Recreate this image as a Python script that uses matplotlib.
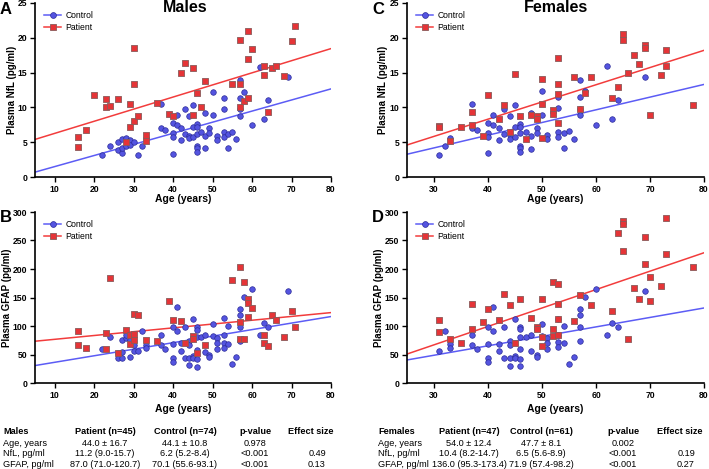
import numpy as np
import matplotlib.pyplot as plt
from matplotlib.lines import Line2D

plt.rcParams['font.family'] = ['Liberation Sans', 'DejaVu Sans']

W, H = 709, 469

# ---- Males NfL (panel A) ----
a_pat_age = [16, 16, 18, 20, 23, 23, 24, 26, 28, 29, 29, 30, 30, 30, 31, 33, 33, 36, 39, 40,
             42, 43, 45, 45, 46, 47, 48, 55, 57, 57, 57, 58, 59, 59, 59, 60, 63, 63, 64, 65,
             66, 68, 70, 71]
a_pat_nfl = [5.8, 4.3, 6.8, 11.8, 11.2, 10.0, 10.2, 11.2, 5.0, 10.5, 7.2, 18.5, 13.4, 8.1, 8.7, 6.1, 5.2, 10.7, 9.1, 8.7,
             14.9, 16.4, 15.7, 8.9, 12.1, 10.1, 13.8, 13.4, 19.7, 13.3, 10.1, 10.9, 21.0, 17.0, 11.3, 18.4, 16.0, 14.7, 9.4, 15.7,
             16.0, 14.5, 19.6, 21.7]
a_con_age = [22, 24, 26, 26, 27, 27, 27, 28, 28, 29, 29, 30, 31, 32, 33, 37, 37, 38, 40, 40,
             40, 40, 41, 41, 42, 42, 43, 43, 44, 44, 44, 45, 45, 45, 46, 46, 46, 46, 46, 46,
             47, 48, 48, 48, 49, 49, 50, 50, 51, 51, 53, 53, 53, 53, 54, 54, 55, 56, 57, 57,
             57, 57, 58, 60, 62, 63, 64, 69]
a_con_nfl = [3.2, 4.4, 5.1, 3.9, 3.4, 4.2, 5.4, 5.6, 4.4, 5.3, 4.6, 5.0, 3.1, 4.4, 5.6, 10.5, 7.1, 6.8, 7.7, 6.3,
             5.8, 3.3, 8.9, 7.4, 7.0, 5.3, 9.8, 6.2, 8.7, 5.9, 5.6, 10.3, 7.2, 5.7, 7.6, 7.2, 6.2, 4.4, 4.1, 3.6,
             6.4, 9.2, 5.9, 4.1, 7.1, 6.3, 12.2, 8.9, 5.9, 5.3, 11.4, 9.8, 6.4, 5.7, 6.2, 4.1, 6.5, 5.5, 14.0, 11.4,
             9.8, 8.8, 12.2, 7.5, 15.8, 8.3, 11.0, 14.3]
a_fit_x = [5, 80]
a_fit_con = [0.7, 12.66]
a_fit_pat = [5.4, 18.45]

# ---- Males GFAP (panel B) ----
b_pat_age = [16, 16, 18, 23, 23, 24, 26, 28, 29, 29, 30, 30, 30, 31, 33, 36, 39, 40, 42, 43,
             45, 45, 46, 48, 55, 57, 57, 57, 58, 58, 59, 59, 59, 60, 63, 63, 64, 65, 66, 68,
             70, 71]
b_pat_gfap = [92, 67.5, 62, 88, 59, 184, 52, 93.5, 85, 68, 121, 86.5, 76, 120, 75.5, 73, 143, 110, 108.5, 71,
              82.5, 77, 52.5, 66, 180, 204, 107, 77, 178, 77, 148, 141, 116.5, 132, 84, 70, 65, 120, 110, 80,
              126, 99]
b_con_age = [22, 24, 26, 26, 27, 27, 27, 28, 28, 29, 29, 30, 30, 31, 32, 33, 33, 37, 37, 38,
             40, 40, 40, 40, 41, 41, 42, 42, 43, 43, 44, 44, 44, 44, 45, 45, 45, 46, 46, 46,
             46, 46, 46, 47, 48, 48, 49, 49, 50, 50, 51, 51, 51, 53, 53, 53, 53, 54, 54, 55,
             56, 57, 57, 57, 57, 58, 60, 62, 63, 64, 69]
b_con_gfap = [59, 81, 53, 43, 75, 54, 43, 79, 85, 76, 46, 66, 57, 57, 92, 66, 62, 84, 67.5, 60.5,
              99, 69, 43, 36, 134, 92, 70, 57, 97.5, 43, 74, 67, 43, 31, 112.5, 47, 43, 98, 93.5, 81,
              58, 41.5, 28, 81, 85, 55, 49.5, 45, 103, 82.5, 79.5, 70, 60.5, 113.5, 85, 71, 62, 100, 69, 33.5,
              45, 129, 119.5, 98.5, 73, 150.5, 164.5, 84, 105.5, 98, 161.5]
b_fit_x = [5, 80]
b_fit_con = [30.6, 116.6]
b_fit_pat = [73.3, 123.5]

# ---- Females NfL (panel C) ----
c_pat_age = [31, 31, 33, 35, 37, 37, 39, 40, 42, 43, 44, 45, 46, 47, 48, 49, 49, 50, 50, 50,
             52, 52, 53, 53, 53, 53, 56, 57, 58, 59, 63, 64, 65, 65, 66, 67, 68, 69, 69, 70,
             72, 73, 73, 78]
c_pat_nfl = [7.35, 7.2, 5.2, 7.2, 9.3, 7.4, 5.9, 11.8, 8.3, 10.3, 6.5, 14.8, 8.7, 5.5, 8.9, 8.8, 8.4, 14.1, 10.5, 5.6,
             9.6, 9.1, 17.1, 13.3, 11.9, 7.7, 14.4, 9.8, 12.0, 14.3, 11.3, 12.9, 20.5, 19.7, 15.0, 17.6, 16.25, 18.9, 18.6, 8.85,
             14.7, 18.3, 16.0, 10.4]
c_con_age = [31, 32, 33, 37, 37, 38, 40, 40, 40, 40, 41, 41, 42, 42, 43, 43, 44, 44, 44, 45,
             45, 45, 46, 46, 46, 46, 46, 46, 47, 48, 48, 48, 49, 49, 50, 50, 51, 51, 53, 53,
             53, 53, 54, 54, 55, 56, 57, 57, 57, 57, 58, 60, 62, 63, 64, 69]
c_con_nfl = [3.1, 4.4, 5.6, 10.5, 7.1, 6.8, 7.7, 6.3, 5.8, 3.4, 8.9, 7.4, 7.0, 5.3, 9.8, 6.2, 8.7, 6.0, 5.5, 10.3,
             7.2, 5.7, 7.6, 7.2, 6.3, 4.5, 4.1, 3.6, 6.5, 9.2, 5.9, 4.0, 7.1, 6.3, 12.3, 8.9, 6.0, 5.4, 11.5, 9.85,
             6.5, 5.7, 6.3, 4.1, 6.6, 5.5, 13.9, 11.5, 9.8, 8.85, 12.3, 7.5, 15.9, 8.4, 11.0, 14.3]
c_fit_x = [25, 80]
c_fit_con = [3.27, 13.3]
c_fit_pat = [4.6, 18.2]

# ---- Females GFAP (panel D) ----
d_pat_age = [31, 31, 33, 35, 37, 37, 39, 40, 42, 43, 44, 45, 46, 48, 49, 49, 50, 50, 50, 52,
             52, 52, 53, 53, 53, 53, 56, 57, 59, 63, 64, 65, 65, 65, 66, 67, 68, 69, 69, 70,
             70, 72, 73, 73, 78]
d_pat_gfap = [111, 90, 77, 71, 139, 94.5, 107, 129, 111, 156, 137, 70, 148, 113.5, 98.5, 95, 148, 81, 64.5, 178,
              95, 83, 173, 139, 112.5, 85, 109, 155, 136, 126, 263, 284.5, 278.7, 231, 77, 167, 148, 256, 209.5, 186,
              143, 170, 289.7, 225.6, 203.7]
d_con_age = [31, 32, 33, 33, 37, 37, 38, 40, 40, 40, 40, 41, 41, 42, 42, 43, 43, 44, 44, 44,
             44, 45, 45, 45, 46, 46, 46, 46, 46, 46, 47, 48, 48, 49, 49, 50, 50, 51, 51, 51,
             53, 53, 53, 53, 54, 54, 55, 56, 57, 57, 57, 57, 58, 60, 62, 63, 64, 69]
d_con_gfap = [57, 92, 68, 62, 84, 67.5, 60.5, 99, 69, 43, 36, 134, 92, 69, 56.5, 97.5, 43, 73, 67, 43,
              30.5, 112.5, 47, 43, 98, 94.5, 81, 59, 41.5, 29, 81, 85, 56, 49.6, 45, 103, 82.5, 79.6, 70, 60,
              113, 85, 71.5, 63, 100.4, 70, 33.5, 45, 130, 119.5, 98, 73, 150.6, 164.5, 83.7, 105.6, 98, 161.6]
d_fit_x = [25, 80]
d_fit_con = [40.4, 131.6]
d_fit_pat = [50.8, 228.5]

# ---- tables ----
m_header = ['Males', 'Patient (n=45)', 'Control (n=74)', 'p-value', 'Effect size']
m_rows = [['Age, years', '44.0 ± 16.7', '44.1 ± 10.8', '0.978', ''],
          ['NfL, pg/ml', '11.2 (9.0-15.7)', '6.2 (5.2-8.4)', '<0.001', '0.49'],
          ['GFAP, pg/ml', '87.0 (71.0-120.7)', '70.1 (55.6-93.1)', '<0.001', '0.13']]
f_header = ['Females', 'Patient (n=47)', 'Control (n=61)', 'p-value', 'Effect size']
f_rows = [['Age, years', '54.0 ± 12.4', '47.7 ± 8.1', '0.002', ''],
          ['NfL, pg/ml', '10.4 (8.2-14.7)', '6.5 (5.6-8.9)', '<0.001', '0.19'],
          ['GFAP, pg/ml', '136.0 (95.3-173.4)', '71.9 (57.4-98.2)', '<0.001', '0.27']]

BLUE = '#5454e0'
BLUE_EDGE = '#2c2c98'
RED = '#e53437'
RED_EDGE = '#8a5a5a'
LBLUE = '#5c5cf5'
LRED = '#f23c3c'

fig = plt.figure(figsize=(W / 100, H / 100), dpi=100)


def add_ax(l, t, r, b):
    return fig.add_axes([l / W, 1 - b / H, (r - l) / W, (b - t) / H])


def fx(x):
    return x / W


def fy(y):
    return 1 - y / H


def panel(ax, con_x, con_y, pat_x, pat_y, fit_x, fit_con, fit_pat, xlim, xticks, ylim, yticks, ylabel,
          ylab_x, xlab_y):
    ax.plot(fit_x, fit_con, color=LBLUE, lw=1.1, zorder=1)
    ax.plot(fit_x, fit_pat, color=LRED, lw=1.1, zorder=1)
    ax.scatter(con_x, con_y, s=16, marker='o', color=BLUE, edgecolor=BLUE_EDGE, linewidth=0.5, zorder=3)
    ax.scatter(pat_x, pat_y, s=16, marker='s', color=RED, edgecolor=RED_EDGE, linewidth=0.6, zorder=4)
    ax.set_xlim(*xlim)
    ax.set_ylim(*ylim)
    ax.set_xticks(xticks)
    ax.set_yticks(yticks)
    for s in ['top', 'right']:
        ax.spines[s].set_visible(False)
    for s in ['left', 'bottom']:
        ax.spines[s].set_linewidth(1.2)
    ax.tick_params(width=1.0, length=3.5, labelsize=6.2, pad=2)
    for lab in ax.get_xticklabels() + ax.get_yticklabels():
        lab.set_fontweight('bold')
    ax.set_xlabel('Age (years)', fontsize=7.5, fontweight='bold', va='center')
    ax.set_ylabel(ylabel, fontsize=7, fontweight='bold', va='center')
    bb = ax.get_position()
    ax.yaxis.set_label_coords((ylab_x / W - bb.x0) / bb.width, 0.5)
    ax.xaxis.set_label_coords(0.5, ((1 - xlab_y / H) - bb.y0) / bb.height)
    handles = [Line2D([], [], color=LBLUE, lw=1.1, marker='o', markersize=4.2,
                      markerfacecolor=BLUE, markeredgecolor=BLUE_EDGE, markeredgewidth=0.5),
               Line2D([], [], color=LRED, lw=1.1, marker='s', markersize=4.2,
                      markerfacecolor=RED, markeredgecolor=RED_EDGE, markeredgewidth=0.6)]
    ax.legend(handles, ['Control', 'Patient'], loc='upper left', bbox_to_anchor=(0.01, 0.99),
              frameon=False, fontsize=6.2, handlelength=2.0, handletextpad=0.5,
              labelspacing=0.35, borderaxespad=0.3)


axA = add_ax(35, 3, 331, 177)
panel(axA, a_con_age, a_con_nfl, a_pat_age, a_pat_nfl, a_fit_x, a_fit_con, a_fit_pat,
      (5, 80), range(10, 81, 10), (0, 25), range(0, 26, 5), 'Plasma NfL (pg/ml)', 12, 199)
axB = add_ax(35, 212, 331, 383)
panel(axB, b_con_age, b_con_gfap, b_pat_age, b_pat_gfap, b_fit_x, b_fit_con, b_fit_pat,
      (5, 80), range(10, 81, 10), (0, 300), range(0, 301, 50), 'Plasma GFAP (pg/ml)', 7, 409)
axC = add_ax(407, 3, 704, 177)
panel(axC, c_con_age, c_con_nfl, c_pat_age, c_pat_nfl, c_fit_x, c_fit_con, c_fit_pat,
      (25, 80), range(30, 81, 10), (0, 25), range(0, 26, 5), 'Plasma NfL (pg/ml)', 383, 199)
axD = add_ax(407, 212, 704, 383)
panel(axD, d_con_age, d_con_gfap, d_pat_age, d_pat_gfap, d_fit_x, d_fit_con, d_fit_pat,
      (25, 80), range(30, 81, 10), (0, 300), range(0, 301, 50), 'Plasma GFAP (pg/ml)', 379, 409)

fig.text(fx(185), fy(7), 'Males', fontsize=11.5, fontweight='bold', ha='center', va='center')
fig.text(fx(556), fy(7), 'Females', fontsize=11.5, fontweight='bold', ha='center', va='center')
for lab, x, y in [('A', 0, 10), ('B', 0, 218), ('C', 372, 10), ('D', 372, 218)]:
    fig.text(fx(x), fy(y), lab, fontsize=12, fontweight='bold', ha='left', va='center')


def table(header, rows, xs, aligns):
    ys = [431, 443, 453, 464]
    for j, h in enumerate(header):
        fig.text(fx(xs[j]), fy(ys[0]), h, fontsize=6.6, fontweight='bold', ha=aligns[j], va='center')
    for i, row in enumerate(rows):
        for j, v in enumerate(row):
            x = xs[j] + (6 if j == 4 else 0)
            fig.text(fx(x), fy(ys[i + 1]), v, fontsize=6.6, ha=aligns[j], va='center')


table(m_header, m_rows, [3, 105, 185, 255, 311], ['left', 'center', 'center', 'center', 'center'])
table(f_header, f_rows, [378, 469, 541, 623, 680], ['left', 'center', 'center', 'center', 'center'])

fig.savefig('out.png', dpi=100)
